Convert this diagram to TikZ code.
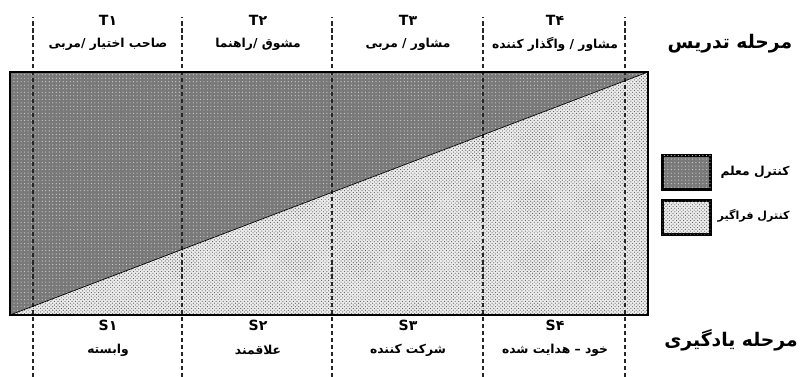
\documentclass[tikz,border=0pt]{standalone}
\usepackage{fontspec}
\usepackage{tikz}
\usetikzlibrary{patterns}
\TeXXeTstate=1
\newfontfamily\arabicfont[Script=Arabic]{DejaVu Sans}
\newcommand{\fa}[1]{\beginR #1\endR}

\begin{document}
\begin{tikzpicture}[x=0.03cm, y=0.03cm,
  tag/.style={font=\arabicfont\bfseries\fontsize{12}{14}\selectfont, inner sep=1pt},
  role/.style={font=\arabicfont\bfseries\fontsize{10.5}{12}\selectfont, inner sep=1pt},
  head/.style={font=\arabicfont\bfseries\fontsize{16}{18}\selectfont, inner sep=1pt},
  sep/.style={line width=0.9pt, gray!30!black, dash pattern=on 3.5pt off 2.5pt},
  teacher/.style={fill=gray!95!black, postaction={pattern=dots, pattern color=gray!35}},
  learner/.style={fill=gray!15, postaction={pattern=crosshatch dots, pattern color=gray!70!black}},
  key/.style={draw, line width=2.6pt, minimum width=1.45cm, minimum height=1.0cm, inner sep=0pt},
]
\useasboundingbox (0,0) rectangle (801,377);

\coordinate (bl) at (10,62);
\coordinate (br) at (648,62);
\coordinate (tl) at (10,305);
\coordinate (tr) at (648,305);

% teacher / learner share of control
\fill[teacher] (bl) -- (tl) -- (tr) -- cycle;
\fill[learner] (bl) -- (br) -- (tr) -- cycle;

\foreach \x in {33,182,332,483,625} \draw[sep] (\x,0) -- (\x,360);

\draw[semithick] (bl) -- (tr);
\draw[line width=1.3pt] (bl) rectangle (tr);

% teaching stages
\node[tag] (T1) at (108,357) {T۱};
\node[tag] (T2) at (258,357) {T۲};
\node[tag] (T3) at (408,357) {T۳};
\node[tag] (T4) at (555,357) {T۴};
\node[role] (t1) at (108,333) {\fa{صاحب اختیار /مربی}};
\node[role] (t2) at (258,333) {\fa{مشوق /راهنما}};
\node[role] (t3) at (408,333) {\fa{مشاور / مربی}};
\node[role] (t4) at (555,333) {\fa{مشاور / واگذار کننده}};

% learning stages
\node[tag] (S1) at (108,52) {S۱};
\node[tag] (S2) at (258,52) {S۲};
\node[tag] (S3) at (408,52) {S۳};
\node[tag] (S4) at (555,52) {S۴};
\node[role] (s1) at (108,27) {\fa{وابسته}};
\node[role] (s2) at (258,27) {\fa{علاقمند}};
\node[role] (s3) at (408,27) {\fa{شرکت کننده}};
\node[role] (s4) at (555,27) {\fa{خود – هدایت شده}};

\node[head] (teach) at (730,333) {\fa{مرحله تدریس}};
\node[head] (learn) at (731,37) {\fa{مرحله یادگیری}};

% legend
\node[key, teacher] (key1) at (686.5,204.5) {};
\node[key, learner] (key2) at (686.5,159.5) {};
\node[role, anchor=east] (lab1) at (791,205) {\fa{کنترل معلم}};
\node[role, anchor=east, font=\arabicfont\bfseries\fontsize{9.5}{11}\selectfont] (lab2) at (791,161) {\fa{کنترل فراگیر}};
\end{tikzpicture}
\end{document}
